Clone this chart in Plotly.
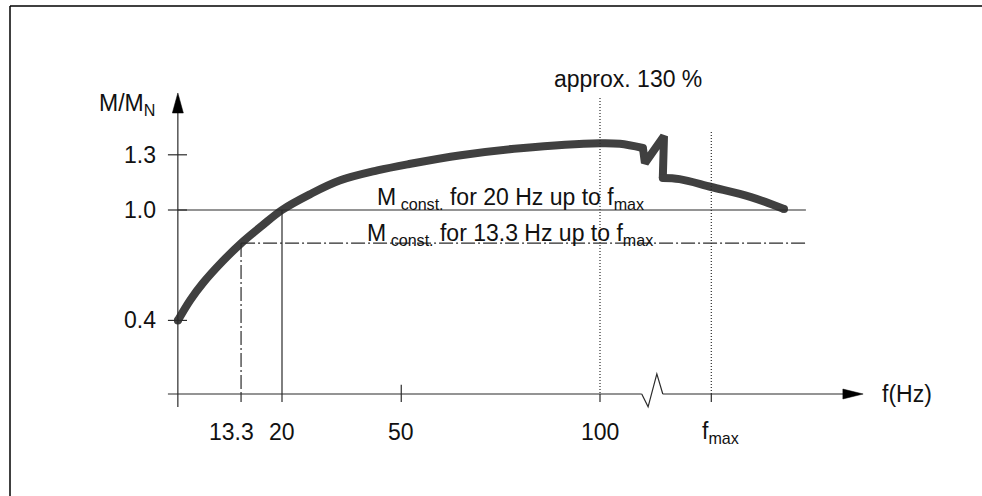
import plotly.graph_objects as go

# ---------------- data (schematic frequency positions / torque ratio) ----------------
curve_f = [-6.2, -3.1, 0.0, 5.0, 10.0, 15.0, 20.0, 27.0, 34.5, 44.0, 52.0, 65.0, 80.0, 100.0, 105.0, 110.8]
curve_m = [0.40, 0.51, 0.60, 0.72, 0.825, 0.915, 1.00, 1.085, 1.16, 1.215, 1.25, 1.298, 1.336, 1.363, 1.36, 1.337]
zig_f = [110.8, 111.3, 116.1, 115.8]
zig_m = [1.337, 1.255, 1.402, 1.174]
tail_f = [115.8, 120.0, 128.0, 138.0, 146.3]
tail_m = [1.174, 1.168, 1.125, 1.07, 1.005]

x_tick_vals = [9.7, 20.0, 50.0, 100.0, 128.0]
x_tick_text = ["13.3", "20", "50", "100", "f<sub>max</sub>"]
x_tick_shift = [-10, 0, 0, 0, 9]
y_tick_vals = [0.4, 1.0, 1.3]
y_tick_text = ["0.4", "1.0", "1.3"]

origin_f = -6.2
m_const_20 = 1.0
m_const_13 = 0.82
f_13 = x_tick_vals[0]
f_20 = x_tick_vals[1]
f_100 = x_tick_vals[3]
f_max = x_tick_vals[4]
line_end_f = 151.8

# ---------------- figure ----------------
FONT = "Liberation Sans, Arial, Helvetica, sans-serif"
CURVE = "#404040"
AX = "#2b2b2b"

fig = go.Figure()

fig.add_trace(go.Scatter(x=curve_f, y=curve_m, mode="lines",
                         line=dict(color=CURVE, width=8, shape="spline", smoothing=1.0),
                         hoverinfo="skip", showlegend=False))
fig.add_trace(go.Scatter(x=zig_f, y=zig_m, mode="lines",
                         line=dict(color=CURVE, width=8),
                         hoverinfo="skip", showlegend=False))
fig.add_trace(go.Scatter(x=tail_f, y=tail_m, mode="lines",
                         line=dict(color=CURVE, width=8, shape="spline", smoothing=1.0),
                         hoverinfo="skip", showlegend=False))
fig.add_trace(go.Scatter(x=[curve_f[0], tail_f[-1], zig_f[-1], curve_f[-1]],
                         y=[curve_m[0], tail_m[-1], zig_m[-1], curve_m[-1]], mode="markers",
                         marker=dict(color=CURVE, size=8, line=dict(width=0)),
                         hoverinfo="skip", showlegend=False))

shapes = []

def seg(x0, y0, x1, y1, color=AX, width=1.2, dash=None):
    d = dict(type="line", xref="x", yref="y", x0=x0, y0=y0, x1=x1, y1=y1,
             line=dict(color=color, width=width))
    if dash:
        d["line"]["dash"] = dash
    shapes.append(d)

# y axis with arrow
seg(origin_f, -0.071, origin_f, 1.53)
shapes.append(dict(type="path", xref="x", yref="y",
                   path=f"M {origin_f-1.384},1.527 L {origin_f},1.636 L {origin_f+1.384},1.527 Z",
                   fillcolor="#000", line=dict(color="#000", width=0.5)))
# x axis with break and arrow
seg(-8.7, 0, 110.5, 0)
shapes.append(dict(type="path", xref="x", yref="y",
                   path="M 110.5,0 L 112.1,-0.07 L 114.3,0.109 L 115.8,0",
                   line=dict(color=AX, width=1.2)))
seg(115.8, 0, 162.0, 0)
shapes.append(dict(type="path", xref="x", yref="y",
                   path="M 161.1,0.027 L 166.2,0 L 161.1,-0.027 Z",
                   fillcolor="#000", line=dict(color="#000", width=0.5)))

# y ticks (crossing)
for v in y_tick_vals:
    seg(-8.7, v, -3.9, v)
# x ticks
for i, v in enumerate(x_tick_vals):
    top = 0.05 if x_tick_text[i] == "50" else 0
    seg(v, top, v, -0.043)

# reference lines
seg(origin_f, m_const_20, line_end_f, m_const_20)
seg(f_20, m_const_20, f_20, 0)
dd = "14px,3px,2px,3px"
seg(f_13, m_const_13, line_end_f, m_const_13, dash=dd)
seg(f_13, m_const_13, f_13, 0, dash=dd)
seg(f_100, 1.609, f_100, 0, width=1.2, dash="1px,2px")
seg(f_max, 1.424, f_max, 0, width=1.2, dash="1px,2px")

# frame (left and top edges)
shapes.append(dict(type="line", xref="paper", yref="paper", x0=10/982, y0=0, x1=10/982, y1=1-6/496,
                   line=dict(color="#000", width=1.5)))
shapes.append(dict(type="line", xref="paper", yref="paper", x0=10/982, y0=1-6/496, x1=1, y1=1-6/496,
                   line=dict(color="#000", width=1.5)))

fs = 23
tf = dict(family=FONT, size=fs, color="#111")
ann = []
for v, t in zip(y_tick_vals, y_tick_text):
    ann.append(dict(x=-11.2, y=v, text=t, xanchor="right", yanchor="middle", showarrow=False, font=tf))
for v, t, s in zip(x_tick_vals, x_tick_text, x_tick_shift):
    ann.append(dict(x=v, y=-0.209, text=t, xanchor="center", yanchor="middle", xshift=s,
                    showarrow=False, font=tf))
ann.append(dict(x=-11.45, y=1.576, text="M/M<sub>N</sub>", xanchor="right", yanchor="middle",
                showarrow=False, font=tf))
ann.append(dict(x=170.4, y=0, text="f(Hz)", xanchor="left", yanchor="middle", showarrow=False, font=tf))
ann.append(dict(x=107.0, y=1.712, text="approx. 130 %", xanchor="center", yanchor="middle",
                showarrow=False, font=tf))
ann.append(dict(x=77.4, y=1.06, text="M<sub> const.</sub> for 20 Hz up to f<sub>max</sub>",
                xanchor="center", yanchor="middle", showarrow=False, font=tf))
ann.append(dict(x=77.4, y=0.865, text="M<sub> const.</sub> for 13.3 Hz up to f<sub>max</sub>",
                xanchor="center", yanchor="middle", showarrow=False, font=tf))

fig.update_layout(
    width=982, height=496, autosize=False,
    margin=dict(l=0, r=0, t=0, b=0, pad=0),
    paper_bgcolor="white", plot_bgcolor="white",
    xaxis=dict(range=[-50.943, 196.101], visible=False, fixedrange=True),
    yaxis=dict(range=[-0.5543, 2.1413], visible=False, fixedrange=True),
    shapes=shapes, annotations=ann, showlegend=False,
)

fig.write_html("out.html", config={"displayModeBar": False},
               post_script="document.body.style.margin='0';document.body.style.overflow='hidden';")
